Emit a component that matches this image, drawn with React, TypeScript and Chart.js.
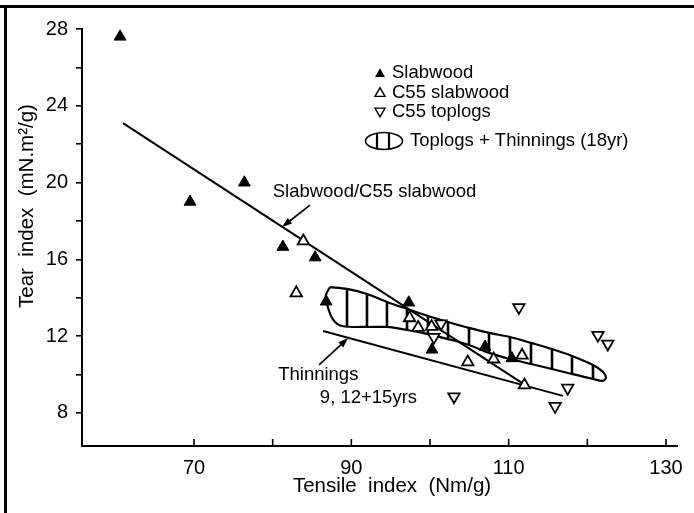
import React, { useEffect, useRef } from 'react';
import { Chart, registerables } from 'chart.js';
Chart.register(...registerables);

// ---- data ----
const slabwoodPts: [number, number][] = [
  [60.6, 27.6], [69.5, 19.0], [76.4, 20.0], [81.3, 16.65], [85.4, 16.1],
  [86.8, 13.8], [97.3, 13.75], [100.25, 11.3], [107.0, 11.45], [110.4, 10.85],
];
const c55SlabPts: [number, number][] = [
  [83.9, 16.95], [83.0, 14.25], [97.4, 12.95], [98.5, 12.45], [100.2, 12.5],
  [104.8, 10.65], [108.1, 10.8], [111.7, 11.0], [112.0, 9.45],
];
const c55TopPts: [number, number][] = [
  [101.4, 12.65], [100.5, 11.95], [111.3, 13.5], [121.35, 12.05], [122.6, 11.6],
  [103.05, 8.85], [117.5, 9.3], [115.9, 8.35],
];
const slabLine: [number, number][] = [[60.97, 23.1], [112.07, 9.46]];
const thinLine: [number, number][] = [[86.4, 12.27], [116.9, 8.89]];

const regionUpper: [number, number][] = [
  [87.29, 14.56], [89.45, 14.46], [91.99, 14.2], [94.53, 13.78], [97.08, 13.42],
  [99.74, 13.05], [102.29, 12.74], [104.96, 12.43], [107.5, 12.17], [110.17, 11.96],
  [112.84, 11.65], [115.51, 11.33], [118.05, 10.97], [120.72, 10.5], [121.99, 10.14],
];
const regionTip: [number, number] = [122.37, 9.85];
const regionLower: [number, number][] = [
  [88.81, 12.53], [91.99, 12.48], [94.53, 12.48], [97.08, 12.32], [99.74, 12.11],
  [102.29, 11.85], [104.96, 11.54], [107.5, 11.13], [110.17, 10.81], [112.84, 10.55],
  [115.51, 10.29], [118.05, 10.03], [120.72, 9.77], [121.99, 9.67],
];
const regionLeft: [number, number][] = [[87.7, 12.85], [86.95, 13.6], [86.78, 14.15]];
const hatchX = [89.45, 91.99, 94.53, 97.08, 99.74, 102.29, 104.96, 107.5, 110.17, 112.84, 115.51, 118.05, 120.72];

const xTicks = [70, 80, 90, 100, 110, 120, 130];
const xLabels = [70, 90, 110, 130];
const yTicks = [8, 10, 12, 14, 16, 18, 20, 22, 24, 26, 28];
const yLabels = [8, 12, 16, 20, 24, 28];
const xRange = [55.76, 131.4];
const yRange = [6.28, 28];

const legendItems = ['Slabwood', 'C55 slabwood', 'C55 toplogs'];
const regionLabel = 'Toplogs + Thinnings (18yr)';
const slabAnno = { text: 'Slabwood/C55 slabwood', at: [80.0, 19.5], from: [84.75, 18.83], to: [81.19, 17.69] };
const thinAnno = { lines: ['Thinnings', '9, 12+15yrs'], at: [[80.7, 9.98], [86.0, 8.78]], from: [85.9, 10.5], to: [89.6, 11.9] };
const xTitle = 'Tensile  index  (Nm/g)';
const yTitle = 'Tear  index  (mN.m\u00b2/g)';

const FONT = '"Liberation Sans", Arial, Helvetica, sans-serif';

function interp(arr: [number, number][], v: number) {
  for (let i = 0; i < arr.length - 1; i++) {
    const [x0, y0] = arr[i], [x1, y1] = arr[i + 1];
    if (v >= x0 && v <= x1) return y0 + ((v - x0) / (x1 - x0)) * (y1 - y0);
  }
  return v < arr[0][0] ? arr[0][1] : arr[arr.length - 1][1];
}

const pts = (a: [number, number][]) => a.map(([x, y]) => ({ x, y }));

function arrow(ctx: CanvasRenderingContext2D, x0: number, y0: number, x1: number, y1: number) {
  const ang = Math.atan2(y1 - y0, x1 - x0);
  const L = 10, W = 3.5;
  ctx.beginPath();
  ctx.moveTo(x0, y0);
  ctx.lineTo(x1 - Math.cos(ang) * L * 0.6, y1 - Math.sin(ang) * L * 0.6);
  ctx.stroke();
  ctx.beginPath();
  ctx.moveTo(x1, y1);
  ctx.lineTo(x1 - Math.cos(ang) * L - Math.sin(ang) * W, y1 - Math.sin(ang) * L + Math.cos(ang) * W);
  ctx.lineTo(x1 - Math.cos(ang) * L + Math.sin(ang) * W, y1 - Math.sin(ang) * L - Math.cos(ang) * W);
  ctx.closePath();
  ctx.fill();
}

function tri(ctx: CanvasRenderingContext2D, cx: number, cy: number, r: number, down: boolean, filled: boolean) {
  const s = down ? -1 : 1;
  ctx.beginPath();
  ctx.moveTo(cx, cy - s * r);
  ctx.lineTo(cx + r * 0.866, cy + s * r * 0.5);
  ctx.lineTo(cx - r * 0.866, cy + s * r * 0.5);
  ctx.closePath();
  if (filled) ctx.fill(); else ctx.stroke();
}

const overlay = {
  id: 'overlay',
  beforeDatasetsDraw(chart: any) {
    const { ctx, scales: { x, y } } = chart;
    ctx.save();
    ctx.strokeStyle = '#000';
    ctx.lineWidth = 2.6;
    hatchX.forEach((v) => {
      const px = x.getPixelForValue(v);
      ctx.beginPath();
      ctx.moveTo(px, y.getPixelForValue(interp(regionUpper, v)));
      ctx.lineTo(px, y.getPixelForValue(interp(regionLower, v)));
      ctx.stroke();
    });
    ctx.restore();
  },
  afterDraw(chart: any) {
    const { ctx, scales: { x, y }, chartArea } = chart;
    ctx.save();
    ctx.strokeStyle = '#000';
    ctx.fillStyle = '#000';
    // inward x ticks
    ctx.lineWidth = 1.6;
    xTicks.forEach((v) => {
      const px = x.getPixelForValue(v);
      ctx.beginPath();
      ctx.moveTo(px, chartArea.bottom);
      ctx.lineTo(px, chartArea.bottom - 7);
      ctx.stroke();
    });
    // frame
    ctx.lineWidth = 3;
    ctx.beginPath();
    ctx.moveTo(0, 6.5); ctx.lineTo(chart.width, 6.5);
    ctx.moveTo(5.5, 5); ctx.lineTo(5.5, chart.height);
    ctx.stroke();

    // axis titles
    ctx.font = `20.5px ${FONT}`;
    ctx.textBaseline = 'middle';
    ctx.textAlign = 'center';
    ctx.fillText(xTitle, chartArea.left + 310, chartArea.bottom + 40);
    ctx.save();
    ctx.translate(27, chartArea.top + 177);
    ctx.rotate(-Math.PI / 2);
    ctx.fillText(yTitle, 0, 0);
    ctx.restore();

    // legend
    ctx.textAlign = 'left';
    ctx.font = `18.5px ${FONT}`;
    const lx = chartArea.left + 298, ly = chartArea.top + 44;
    ctx.lineWidth = 1.4;
    legendItems.forEach((t, i) => {
      const cy = ly + i * 19.5;
      tri(ctx, lx, cy + (i === 2 ? -1 : 1), 5.8, i === 2, i === 0);
      ctx.fillText(t, lx + 12, cy);
    });
    const ey = ly + 68;
    ctx.lineWidth = 1.6;
    ctx.beginPath();
    ctx.ellipse(lx + 4, ey, 18.5, 8.5, 0, 0, Math.PI * 2);
    ctx.stroke();
    ctx.lineWidth = 2.2;
    [lx - 3, lx + 9].forEach((hx) => {
      const dy = 8.5 * Math.sqrt(1 - ((hx - lx - 4) / 18.5) ** 2);
      ctx.beginPath();
      ctx.moveTo(hx, ey - dy); ctx.lineTo(hx, ey + dy);
      ctx.stroke();
    });
    ctx.fillText(regionLabel, lx + 30, ey);

    // annotations
    ctx.lineWidth = 1.7;
    ctx.fillText(slabAnno.text, x.getPixelForValue(slabAnno.at[0]), y.getPixelForValue(slabAnno.at[1]));
    arrow(ctx, x.getPixelForValue(slabAnno.from[0]), y.getPixelForValue(slabAnno.from[1]),
      x.getPixelForValue(slabAnno.to[0]), y.getPixelForValue(slabAnno.to[1]));
    thinAnno.lines.forEach((t, i) => {
      ctx.fillText(t, x.getPixelForValue(thinAnno.at[i][0]), y.getPixelForValue(thinAnno.at[i][1]));
    });
    arrow(ctx, x.getPixelForValue(thinAnno.from[0]), y.getPixelForValue(thinAnno.from[1]),
      x.getPixelForValue(thinAnno.to[0]), y.getPixelForValue(thinAnno.to[1]));
    ctx.restore();
  },
};

export default function App() {
  const ref = useRef<HTMLCanvasElement>(null);
  useEffect(() => {
    if (!ref.current) return;
    const regionPoly = [...regionUpper, regionTip, ...[...regionLower].reverse(), ...regionLeft, regionUpper[0]];
    const chart = new Chart(ref.current, {
      type: 'scatter',
      data: {
        datasets: [
          { label: 'Slabwood', data: pts(slabwoodPts), pointStyle: 'triangle', pointRadius: 6.8, backgroundColor: '#000', borderColor: '#000', borderWidth: 1, order: 0 },
          { label: 'C55 slabwood', data: pts(c55SlabPts), pointStyle: 'triangle', pointRadius: 6.6, backgroundColor: '#fff', borderColor: '#000', borderWidth: 1.8, order: 0 },
          { label: 'C55 toplogs', data: pts(c55TopPts), pointStyle: 'triangle', rotation: 180, pointRadius: 6.6, backgroundColor: '#fff', borderColor: '#000', borderWidth: 1.8, order: 0 },
          { label: 'slabLine', data: pts(slabLine), showLine: true, pointRadius: 0, borderColor: '#000', borderWidth: 2, order: 1 },
          { label: 'thinLine', data: pts(thinLine), showLine: true, pointRadius: 0, borderColor: '#000', borderWidth: 2, order: 1 },
          { label: 'region', data: pts(regionPoly), showLine: true, pointRadius: 0, borderColor: '#000', borderWidth: 2.2, tension: 0.3, order: 2 } as any,
        ],
      },
      options: {
        animation: false,
        responsive: false,
        layout: { padding: { left: 0, top: 29, right: 17, bottom: 0 } },
        plugins: { legend: { display: false }, tooltip: { enabled: false } },
        scales: {
          x: {
            type: 'linear', min: xRange[0], max: xRange[1],
            afterBuildTicks: (s: any) => { s.ticks = xTicks.map((v) => ({ value: v })); },
            afterFit: (s: any) => { s.height = 67; },
            grid: { display: true, drawOnChartArea: false, drawTicks: false },
            border: { display: true, color: '#000', width: 2 },
            ticks: {
              padding: 10, color: '#000', font: { family: FONT, size: 20 }, maxRotation: 0, autoSkip: false,
              callback: (v: any) => (xLabels.includes(Number(v)) ? String(v) : ''),
            },
          },
          y: {
            type: 'linear', min: yRange[0], max: yRange[1],
            afterBuildTicks: (s: any) => { s.ticks = yTicks.map((v) => ({ value: v })); },
            afterFit: (s: any) => { s.width = 82; },
            grid: { display: true, drawOnChartArea: false, drawTicks: true, tickLength: 6, color: '#000', lineWidth: 1.6 },
            border: { display: true, color: '#000', width: 2 },
            ticks: {
              padding: 8, color: '#000', font: { family: FONT, size: 20 }, autoSkip: false,
              callback: (v: any) => (yLabels.includes(Number(v)) ? String(v) : ''),
            },
          },
        },
      },
      plugins: [overlay],
    } as any);
    return () => chart.destroy();
  }, []);
  return (
    <div style={{ position: 'absolute', left: 0, top: 0, width: 694, height: 513, background: '#fff' }}>
      <canvas ref={ref} width={694} height={513} style={{ display: 'block' }} />
    </div>
  );
}
